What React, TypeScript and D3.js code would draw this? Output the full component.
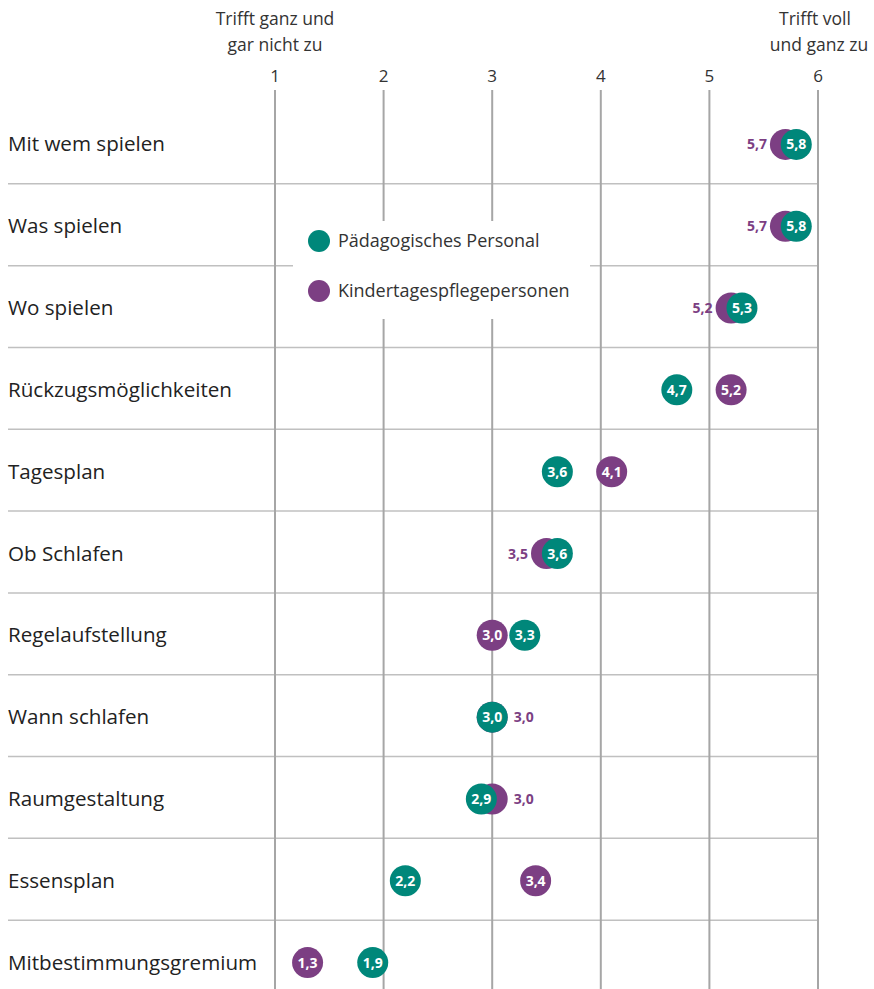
import React from "react";
import * as d3 from "d3";

const categories = [
  "Mit wem spielen",
  "Was spielen",
  "Wo spielen",
  "Rückzugsmöglichkeiten",
  "Tagesplan",
  "Ob Schlafen",
  "Regelaufstellung",
  "Wann schlafen",
  "Raumgestaltung",
  "Essensplan",
  "Mitbestimmungsgremium",
];
const paedagogisch = [5.8, 5.8, 5.3, 4.7, 3.6, 3.6, 3.3, 3.0, 2.9, 2.2, 1.9];
const kindertages = [5.7, 5.7, 5.2, 5.2, 4.1, 3.5, 3.0, 3.0, 3.0, 3.4, 1.3];
const ticks = [1, 2, 3, 4, 5, 6];
const seriesNames = ["Pädagogisches Personal", "Kindertagespflegepersonen"];

const TEAL = "#00877a";
const PURPLE = "#7c3f83";
const FONT = "'Open Sans', 'Noto Sans', sans-serif";

export default function App() {
  const W = 874, H = 989;
  const x = d3.scaleLinear().domain([1, 6]).range([275, 818]);
  const y = d3.scaleBand<string>().domain(categories).range([102, 1002]).paddingInner(0).paddingOuter(0);
  const r = 15.5;
  const fmt = (v: number) => d3.format(".1f")(v).replace(".", ",");

  return (
    <svg width={W} height={H} style={{ position: "absolute", left: 0, top: 0 }} fontFamily={FONT}>
      <rect width={W} height={H} fill="#fff" />
      {categories.slice(1).map((c) => (
        <line key={c} x1={8} x2={818} y1={y(c)!} y2={y(c)!} stroke="#c0c0c0" strokeWidth={1.5} />
      ))}
      {ticks.map((t) => (
        <line key={t} x1={x(t)} x2={x(t)} y1={90} y2={H} stroke="#a6a6a6" strokeWidth={2} />
      ))}
      {ticks.map((t) => (
        <text key={t} x={x(t)} y={82} textAnchor="middle" fontSize={17} fill="#333">{t}</text>
      ))}
      <text x={x(1)} y={25} textAnchor="middle" fontSize={17.5} fill="#333">Trifft ganz und</text>
      <text x={x(1)} y={51} textAnchor="middle" fontSize={17.5} fill="#333">gar nicht zu</text>
      <text x={815} y={25} textAnchor="middle" fontSize={17.5} fill="#333">Trifft voll</text>
      <text x={819} y={51} textAnchor="middle" fontSize={17.5} fill="#333">und ganz zu</text>

      <rect x={293} y={221} width={297} height={98} fill="#fff" />
      {seriesNames.map((s, i) => (
        <g key={s} transform={`translate(319, ${241 + i * 50})`}>
          <circle r={11} fill={i === 0 ? TEAL : PURPLE} />
          <text x={19} y={6} fontSize={18} fill="#333">{s}</text>
        </g>
      ))}

      {categories.map((c, i) => {
        const cy = y(c)! + y.bandwidth() / 2 + 1.5;
        const pv = paedagogisch[i];
        const kv = kindertages[i];
        const px = x(pv);
        const kx = x(kv);
        const overlap = Math.abs(px - kx) < 2 * r;
        return (
          <g key={c}>
            <text x={8} y={cy + 7} fontSize={20.6} fill="#222">{c}</text>
            <circle cx={kx} cy={cy} r={r} fill={PURPLE} />
            <circle cx={px} cy={cy} r={r} fill={TEAL} />
            {!overlap && (
              <text x={kx} y={cy + 5} textAnchor="middle" fontSize={14} fontWeight={700} fill="#fff">{fmt(kv)}</text>
            )}
            <text x={px} y={cy + 5} textAnchor="middle" fontSize={14} fontWeight={700} fill="#fff">{fmt(pv)}</text>
            {overlap && (kv < pv ? (
              <text x={kx - r - 3} y={cy + 5} textAnchor="end" fontSize={14} fontWeight={700} fill={PURPLE}>{fmt(kv)}</text>
            ) : (
              <text x={kx + r + 6} y={cy + 5} textAnchor="start" fontSize={14} fontWeight={700} fill={PURPLE}>{fmt(kv)}</text>
            ))}
          </g>
        );
      })}
    </svg>
  );
}
